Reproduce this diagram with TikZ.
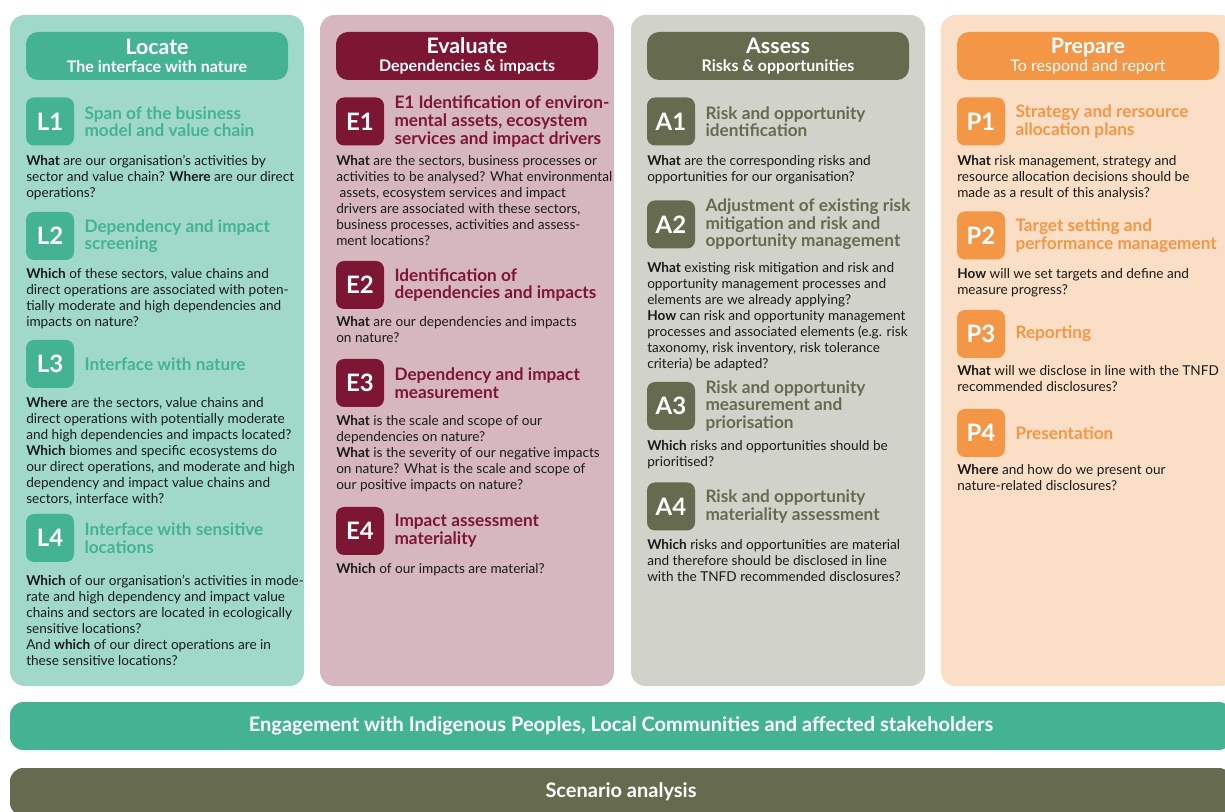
\documentclass[tikz,border=0pt]{standalone}
\usepackage{fontspec}
\setmainfont{Lato}
\usepackage{tikz}
\usetikzlibrary{positioning}
\definecolor{locbg}{HTML}{A0D9C9}
\definecolor{locdark}{HTML}{44B394}
\definecolor{evalbg}{HTML}{D7B7BF}
\definecolor{evaldark}{HTML}{7C1632}
\definecolor{assbg}{HTML}{D1D2CA}
\definecolor{assdark}{HTML}{666A4F}
\definecolor{prepbg}{HTML}{FADFC6}
\definecolor{prepdark}{HTML}{F39646}
\definecolor{bodytext}{HTML}{1A1A1A}

\begin{document}
\begin{tikzpicture}[
    x=0.75pt, y=-0.75pt,
    panel/.style={rectangle, rounded corners=11pt, minimum width=220.5pt, minimum height=503.25pt, inner sep=0pt},
    header/.style={rectangle, rounded corners=9pt, minimum width=196.5pt, minimum height=36pt, text=white, align=center, inner sep=0pt},
    badge/.style={rectangle, rounded corners=6pt, minimum width=36pt, minimum height=36pt, inner sep=0pt, text=white, font=\fontsize{18}{18}\selectfont\bfseries},
    steptitle/.style={anchor=west, align=left, inner sep=0pt, font=\fontsize{12.9}{13.2}\selectfont\bfseries},
    body/.style={anchor=north west, align=left, inner sep=0pt, text=bodytext, font=\fontsize{10.2}{12}\selectfont},
    bar/.style={rectangle, rounded corners=10pt, minimum width=916.5pt, minimum height=36pt, inner sep=0pt, text=white, font=\fontsize{15}{16}\selectfont\bfseries}
]
\useasboundingbox (0,0) rectangle (1225,812);
\clip (0,0) rectangle (1225,812);

% Panels
\node[panel, fill=locbg] (locpanel) at (157,350.5) {};
\node[panel, fill=evalbg] (evalpanel) at (467,350.5) {};
\node[panel, fill=assbg] (asspanel) at (778,350.5) {};
\node[panel, fill=prepbg] (preppanel) at (1088,350.5) {};

% Headers
\node[header, fill=locdark] (lochead) at (157,56) {{\fontsize{16}{17}\selectfont\bfseries Locate}\\[2pt]{\fontsize{12}{13}\selectfont\bfseries The interface with nature}};
\node[header, fill=evaldark] (evalhead) at (467,56) {{\fontsize{16}{17}\selectfont\bfseries Evaluate}\\[2pt]{\fontsize{12}{13}\selectfont\bfseries Dependencies \& impacts}};
\node[header, fill=assdark] (asshead) at (778,56) {{\fontsize{16}{17}\selectfont\bfseries Assess}\\[2pt]{\fontsize{12}{13}\selectfont\bfseries Risks \& opportunities}};
\node[header, fill=prepdark] (prephead) at (1088,56) {{\fontsize{16}{17}\selectfont\bfseries Prepare}\\[2pt]{\fontsize{12}{13}\selectfont To respond and report}};

% Locate column
\node[badge, fill=locdark] (l1) at (50,121.5) {L1};
\node[steptitle, text=locdark, right=7.5pt of l1] (l1title) {Span of the business\\model and value chain};
\node[body] (l1text) at (26,155) {\textbf{What} are our organisation’s activities by\\sector and value chain? \textbf{Where} are our direct\\operations?};

\node[badge, fill=locdark] (l2) at (50,236) {L2};
\node[steptitle, text=locdark, right=7.5pt of l2] (l2title) {Dependency and impact\\screening};
\node[body] (l2text) at (26,268) {\textbf{Which} of these sectors, value chains and\\direct operations are associated with poten-\\tially moderate and high dependencies and\\impacts on nature?};

\node[badge, fill=locdark] (l3) at (50,364) {L3};
\node[steptitle, text=locdark, right=7.5pt of l3] (l3title) {Interface with nature};
\node[body] (l3text) at (26,397) {\textbf{Where} are the sectors, value chains and\\direct operations with potentially moderate\\and high dependencies and impacts located?\\\textbf{Which} biomes and specific ecosystems do\\our direct operations, and moderate and high\\dependency and impact value chains and\\sectors, interface with?};

\node[badge, fill=locdark] (l4) at (50,538) {L4};
\node[steptitle, text=locdark, right=7.5pt of l4] (l4title) {Interface with sensitive\\locations};
\node[body] (l4text) at (26,575) {\textbf{Which} of our organisation's activities in mode-\\rate and high dependency and impact value\\chains and sectors are located in ecologically\\sensitive locations?\\And \textbf{which} of our direct operations are in\\these sensitive locations?};

% Evaluate column
\node[badge, fill=evaldark] (e1) at (360,121.5) {E1};
\node[steptitle, text=evaldark, right=7.5pt of e1] (e1title) {E1 Identification of environ-\\mental assets, ecosystem\\services and impact drivers};
\node[body] (e1text) at (336,155) {\textbf{What} are the sectors, business processes or\\activities to be analysed? What environmental\\\hspace{0.25em}assets, ecosystem services and impact\\drivers are associated with these sectors,\\business processes, activities and assess-\\ment locations?};

\node[badge, fill=evaldark] (e2) at (360,285) {E2};
\node[steptitle, text=evaldark, right=7.5pt of e2] (e2title) {Identification of\\dependencies and impacts};
\node[body] (e2text) at (336,316) {\textbf{What} are our dependencies and impacts\\on nature?};

\node[badge, fill=evaldark] (e3) at (360,383) {E3};
\node[steptitle, text=evaldark, right=7.5pt of e3] (e3title) {Dependency and impact\\measurement};
\node[body] (e3text) at (336,415) {\textbf{What} is the scale and scope of our\\dependencies on nature?\\\textbf{What} is the severity of our negative impacts\\on nature? What is the scale and scope of\\our positive impacts on nature?};

\node[badge, fill=evaldark] (e4) at (360,531) {E4};
\node[steptitle, text=evaldark, right=7.5pt of e4] (e4title) {Impact assessment\\materiality};
\node[body] (e4text) at (336,563) {\textbf{Which} of our impacts are material?};

% Assess column
\node[badge, fill=assdark] (a1) at (671,121.5) {A1};
\node[steptitle, text=assdark, right=7.5pt of a1] (a1title) {Risk and opportunity\\identification};
\node[body] (a1text) at (647,155) {\textbf{What} are the corresponding risks and\\opportunities for our organisation?};

\node[badge, fill=assdark] (a2) at (671,224.5) {A2};
\node[steptitle, text=assdark, right=7.5pt of a2] (a2title) {Adjustment of existing risk\\mitigation and risk and\\opportunity management};
\node[body] (a2text) at (647,262) {\textbf{What} existing risk mitigation and risk and\\opportunity management processes and\\elements are we already applying?\\\textbf{How} can risk and opportunity management\\processes and associated elements (e.g. risk\\taxonomy, risk inventory, risk tolerance\\criteria) be adapted?};

\node[badge, fill=assdark] (a3) at (671,406) {A3};
\node[steptitle, text=assdark, right=7.5pt of a3] (a3title) {Risk and opportunity\\measurement and\\priorisation};
\node[body] (a3text) at (647,440) {\textbf{Which} risks and opportunities should be\\prioritised?};

\node[badge, fill=assdark] (a4) at (671,506.5) {A4};
\node[steptitle, text=assdark, right=7.5pt of a4] (a4title) {Risk and opportunity\\materiality assessment};
\node[body] (a4text) at (647,539) {\textbf{Which} risks and opportunities are material\\and therefore should be disclosed in line\\with the TNFD recommended disclosures?};

% Prepare column
\node[badge, fill=prepdark] (p1) at (981,121.5) {P1};
\node[steptitle, text=prepdark, right=7.5pt of p1] (p1title) {Strategy and rersource\\allocation plans};
\node[body] (p1text) at (957,155) {\textbf{What} risk management, strategy and\\resource allocation decisions should be\\made as a result of this analysis?};

\node[badge, fill=prepdark] (p2) at (981,235.5) {P2};
\node[steptitle, text=prepdark, right=7.5pt of p2] (p2title) {Target setting and\\performance management};
\node[body] (p2text) at (957,268) {\textbf{How} will we set targets and define and\\measure progress?};

\node[badge, fill=prepdark] (p3) at (981,334) {P3};
\node[steptitle, text=prepdark, right=7.5pt of p3] (p3title) {Reporting};
\node[body] (p3text) at (957,365) {\textbf{What} will we disclose in line with the TNFD\\recommended disclosures?};

\node[badge, fill=prepdark] (p4) at (981,433) {P4};
\node[steptitle, text=prepdark, right=7.5pt of p4] (p4title) {Presentation};
\node[body] (p4text) at (957,464) {\textbf{Where} and how do we present our\\nature-related disclosures?};

% Bottom bars
\node[bar, fill=locdark] (engage) at (621,726) {Engagement with Indigenous Peoples, Local Communities and affected stakeholders};
\node[bar, fill=assdark] (scenario) at (621,792) {Scenario analysis};

\end{tikzpicture}
\end{document}
